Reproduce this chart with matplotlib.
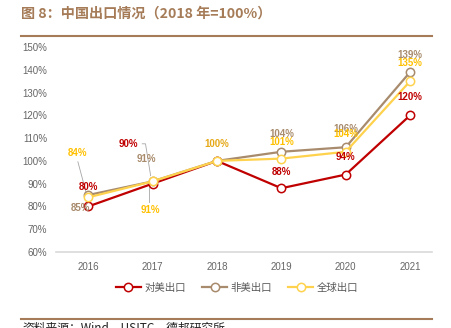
import matplotlib
matplotlib.use("Agg")
import matplotlib.pyplot as plt
from matplotlib.lines import Line2D

plt.rcParams['font.family'] = ['Liberation Sans', 'Noto Sans CJK SC', 'DejaVu Sans']

years = ["2016", "2017", "2018", "2019", "2020", "2021"]
us_export = [80, 90, 100, 88, 94, 120]
non_us_export = [85, 91, 100, 104, 106, 139]
global_export = [84, 91, 100, 101, 104, 135]
series_names = ["对美出口", "非美出口", "全球出口"]
yticks = [60, 70, 80, 90, 100, 110, 120, 130, 140, 150]

c_us = "#C00000"
c_non = "#A88B6C"
c_glb = "#FFD24D"
c_glb_txt = "#FFC000"
c_title = "#A67C58"

fig = plt.figure(figsize=(4.51, 3.28), dpi=100)
W, H = 451, 328
ax = fig.add_axes([56 / W, 1 - 252 / H, (432 - 56) / W, (252 - 47) / H])

x = list(range(len(years)))
mk = dict(marker="o", markersize=6, markerfacecolor="white", markeredgewidth=1.1, lw=1.6)
ax.plot(x, non_us_export, color=c_non, zorder=3, **mk)
ax.plot(x, global_export, color=c_glb, zorder=4, **mk)
ax.plot(x, us_export, color=c_us, zorder=2, **mk)

ax.set_xlim(-0.5, 5.34)
ax.set_ylim(60, 150)
ax.set_yticks(yticks)
ax.set_yticklabels([f"{v}%" for v in yticks])
ax.set_xticks(x)
ax.set_xticklabels(years)
ax.tick_params(axis="both", length=0, labelsize=7, colors="#666666")
ax.tick_params(axis="x", pad=7)
ax.tick_params(axis="y", pad=6.5)
for s in ["top", "right", "left"]:
    ax.spines[s].set_visible(False)
ax.spines["bottom"].set_color("#D9D9D9")
ax.spines["bottom"].set_linewidth(1.2)

lab = dict(fontsize=7, fontweight="bold", ha="center", va="center", zorder=6)
gold = "#E6A817"
lead = dict(color="#A6A6A6", lw=0.6, zorder=1)


def pct(v):
    return f"{v}%"


# 2016
ax.text(x[0] - 0.16, global_export[0] + 19.5, pct(global_export[0]), color=c_glb_txt, **lab)
ax.text(x[0], us_export[0] + 8.6, pct(us_export[0]), color=c_us, **lab)
ax.text(x[0] - 0.12, non_us_export[0] - 5.7, pct(non_us_export[0]), color=c_non, **lab)
ax.plot([x[0] - 0.16, x[0] - 0.03], [global_export[0] + 15.6, global_export[0] + 1.9], **lead)
# 2017
ax.text(x[1] - 0.37, us_export[1] + 17.5, pct(us_export[1]), color=c_us, **lab)
ax.text(x[1] - 0.09, non_us_export[1] + 9.9, pct(non_us_export[1]), color=c_non, **lab)
ax.text(x[1] - 0.03, global_export[1] - 12.5, pct(global_export[1]), color=c_glb_txt, **lab)
ax.plot([x[1] - 0.16, x[1] - 0.11, x[1] - 0.03], [us_export[1] + 17.5, us_export[1] + 17.5, us_export[1] + 3.5], **lead)
ax.plot([x[1] - 0.05, x[1] - 0.05], [global_export[1] - 0.7, global_export[1] - 9.0], **lead)
# 2018
ax.text(x[2], global_export[2] + 7.5, pct(global_export[2]), color=gold, **lab)
# 2019
ax.text(x[3], non_us_export[3] + 7.9, pct(non_us_export[3]), color=c_non, **lab)
ax.text(x[3], global_export[3] + 7.4, pct(global_export[3]), color=c_glb_txt, **lab)
ax.text(x[3], us_export[3] + 7.2, pct(us_export[3]), color=c_us, **lab)
# 2020
ax.text(x[4], non_us_export[4] + 8.1, pct(non_us_export[4]), color=c_non, **lab)
ax.text(x[4], global_export[4] + 7.9, pct(global_export[4]), color=c_glb_txt, **lab)
ax.text(x[4], us_export[4] + 7.8, pct(us_export[4]), color=c_us, **lab)
# 2021
ax.text(x[5], non_us_export[5] + 7.6, pct(non_us_export[5]), color=c_non, **lab)
ax.text(x[5], global_export[5] + 8.1, pct(global_export[5]), color=c_glb_txt, **lab)
ax.text(x[5], us_export[5] + 8.2, pct(us_export[5]), color=c_us, **lab)

handles = [Line2D([], [], color=c, **mk) for c in (c_us, c_non, c_glb)]
fig.legend(handles, series_names, loc="center", bbox_to_anchor=(237 / W, 1 - 288 / H), ncol=3,
           frameon=False, handlelength=2.4, handletextpad=0.3, columnspacing=1.6,
           labelcolor="#595959", prop={"family": ["Noto Sans CJK SC"], "size": 7.5})

# header and footer
fig.text(21 / W, 1 - 14 / H, "图 8：中国出口情况（2018 年=100%）", color=c_title, fontsize=10.2,
         fontweight="bold", ha="left", va="center", family=["Noto Sans CJK SC", "DejaVu Sans"])
fig.add_artist(Line2D([21 / W, 432 / W], [1 - 36 / H, 1 - 36 / H], color=c_title, lw=1.5))
fig.add_artist(Line2D([21 / W, 432 / W], [1 - 319 / H, 1 - 319 / H], color=c_title, lw=1.5))
fig.text(22 / W, 1 - 322 / H, "资料来源：Wind，USITC，德邦研究所", color="#222222", fontsize=8.5,
         ha="left", va="top", family=["Noto Sans CJK SC", "DejaVu Sans"])

fig.savefig("out.png", dpi=100)
